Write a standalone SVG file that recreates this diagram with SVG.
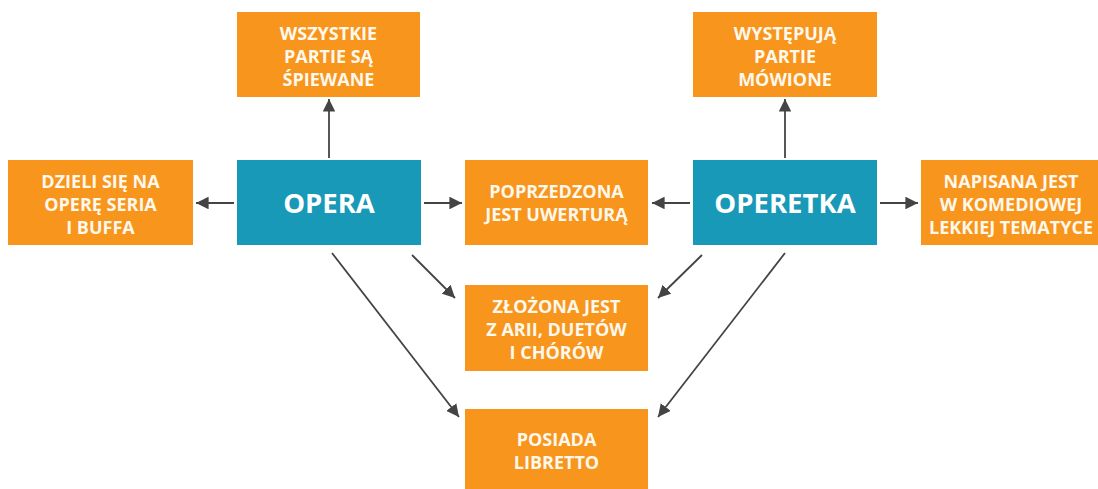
<svg xmlns="http://www.w3.org/2000/svg" width="1098" height="489" viewBox="0 0 1098 489">
<defs>
<style>
.o{fill:#F7951D}
.t{fill:#1899B8}
.s{font-family:"Open Sans","Liberation Sans",sans-serif;font-weight:700;font-size:18px;fill:#FFF8EC;text-anchor:middle}
.b{font-family:"Open Sans","Liberation Sans",sans-serif;font-weight:700;font-size:27.5px;fill:#FFFFFF;text-anchor:middle}
.c{stroke:#444;stroke-width:1.8;fill:none;marker-end:url(#ah)}
</style>
<marker id="ah" viewBox="0 0 10 10" refX="10" refY="5" markerWidth="7" markerHeight="7" markerUnits="strokeWidth" orient="auto">
<path d="M0,0 L10,5 L0,10 Z" fill="#444"/>
</marker>
</defs>
<rect width="1098" height="489" fill="#FFFFFF"/>
<g id="connectors">
<line class="c" x1="329" y1="158" x2="329" y2="99"/>
<line class="c" x1="785" y1="158" x2="785" y2="99"/>
<line class="c" x1="234" y1="203" x2="196" y2="203"/>
<line class="c" x1="424" y1="203" x2="462" y2="203"/>
<line class="c" x1="690" y1="203" x2="652" y2="203"/>
<line class="c" x1="880" y1="203" x2="918" y2="203"/>
<line class="c" x1="412" y1="255" x2="455" y2="298"/>
<line class="c" x1="332" y1="253" x2="459" y2="417"/>
<line class="c" x1="702" y1="255" x2="658" y2="298"/>
<line class="c" x1="785" y1="253" x2="658" y2="417"/>
</g>
<g id="n-wszystkie">
<rect class="o" x="237" y="12" width="183" height="85"/>
<text class="s" x="328.5" y="39.5">WSZYSTKIE</text>
<text class="s" x="328.5" y="62.5">PARTIE SĄ</text>
<text class="s" x="328.5" y="85.5">ŚPIEWANE</text>
</g>
<g id="n-wystepuja">
<rect class="o" x="693" y="12" width="184" height="85"/>
<text class="s" x="785" y="39.5">WYSTĘPUJĄ</text>
<text class="s" x="785" y="62.5">PARTIE</text>
<text class="s" x="785" y="85.5">MÓWIONE</text>
</g>
<g id="n-dzieli">
<rect class="o" x="8" y="160" width="185" height="85"/>
<text class="s" x="100.5" y="187.5">DZIELI SIĘ NA</text>
<text class="s" x="100.5" y="210.5">OPERĘ SERIA</text>
<text class="s" x="100.5" y="233.5">I BUFFA</text>
</g>
<g id="n-opera">
<rect class="t" x="237" y="160" width="184" height="85"/>
<text class="b" x="329" y="212.5">OPERA</text>
</g>
<g id="n-poprzedzona">
<rect class="o" x="465" y="160" width="183" height="85"/>
<text class="s" x="556.5" y="198">POPRZEDZONA</text>
<text class="s" x="556.5" y="221">JEST UWERTURĄ</text>
</g>
<g id="n-operetka">
<rect class="t" x="693" y="160" width="184" height="85"/>
<text class="b" x="785" y="212.5">OPERETKA</text>
</g>
<g id="n-napisana">
<rect class="o" x="921" y="160" width="190" height="85"/>
<text class="s" x="1011" y="187.5">NAPISANA JEST</text>
<text class="s" x="1011" y="210.5">W KOMEDIOWEJ</text>
<text class="s" x="1011" y="233.5">LEKKIEJ TEMATYCE</text>
</g>
<g id="n-zlozona">
<rect class="o" x="465" y="285" width="183" height="86"/>
<text class="s" x="556.5" y="312.5">ZŁOŻONA JEST</text>
<text class="s" x="556.5" y="335.5">Z ARII, DUETÓW</text>
<text class="s" x="556.5" y="358.5">I CHÓRÓW</text>
</g>
<g id="n-posiada">
<rect class="o" x="465" y="409" width="183" height="85"/>
<text class="s" x="556.5" y="446">POSIADA</text>
<text class="s" x="556.5" y="469">LIBRETTO</text>
</g>
</svg>
